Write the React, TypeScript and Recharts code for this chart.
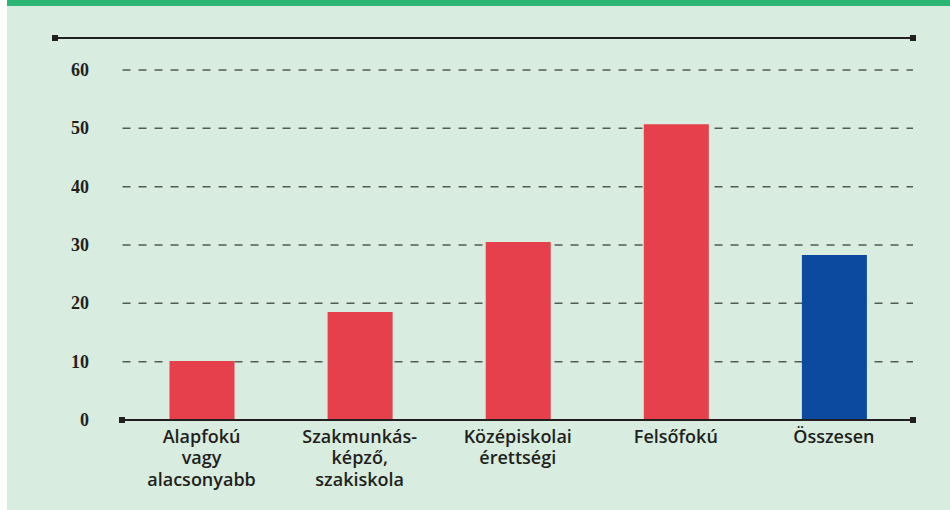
import { BarChart, Bar, XAxis, YAxis, CartesianGrid, Cell } from 'recharts'

const categories = [
  'Alapfokú|vagy|alacsonyabb',
  'Szakmunkás-|képző,|szakiskola',
  'Középiskolai|érettségi',
  'Felsőfokú',
  'Összesen',
]
const values = [10.1, 18.5, 30.5, 50.7, 28.3]
const yTicks = [0, 10, 20, 30, 40, 50, 60]

const RED = '#e5404c'
const BLUE = '#0b4a9e'
const INK = '#231f20'

const data = categories.map((name, i) => ({ name, value: values[i] }))

const CategoryTick = ({ x, y, payload }: any) => {
  const lines = String(payload.value).split('|')
  return (
    <text x={x} y={y + 15} textAnchor="middle" fill={INK}
      style={{ fontFamily: '"Open Sans", sans-serif', fontSize: 18, fontWeight: 600 }}>
      {lines.map((l, i) => (
        <tspan key={i} x={x} dy={i === 0 ? 0 : 21.3}>{l}</tspan>
      ))}
    </text>
  )
}

const ValueTick = ({ y, payload }: any) => (
  <text x={89} y={y} dy="0.34em" textAnchor="end" fill={INK}
    style={{ fontFamily: '"Liberation Serif", serif', fontSize: 18, fontWeight: 700 }}>
    {payload.value}
  </text>
)

export default function App() {
  return (
    <div style={{ position: 'absolute', left: 0, top: 0, width: 950, height: 510, background: '#fff' }}>
      <div style={{ position: 'absolute', left: 7, top: 0, width: 943, height: 510, background: '#d8ecdf' }} />
      <div style={{ position: 'absolute', left: 7, top: 0, width: 943, height: 6, background: '#2bb673' }} />
      <div style={{ position: 'absolute', left: 0, top: 0 }}>
        <BarChart width={950} height={510} data={data}
          margin={{ top: 70, right: 37, bottom: 60, left: 0 }}>
          <CartesianGrid vertical={false} strokeDasharray="8 8" stroke="#555a55" strokeWidth={1.5} />
          <YAxis width={122.5} domain={[0, 60]} ticks={yTicks} axisLine={false} tickLine={false}
            tick={<ValueTick />} interval={0} />
          <XAxis dataKey="name" height={30} tickSize={8} tickMargin={0} tickLine={false} interval={0}
            axisLine={{ stroke: INK, strokeWidth: 2 }} tick={<CategoryTick />} />
          <Bar dataKey="value" barSize={65} isAnimationActive={false}>
            {data.map((d, i) => (
              <Cell key={d.name} fill={i === data.length - 1 ? BLUE : RED} />
            ))}
          </Bar>
        </BarChart>
      </div>
      <svg width={950} height={510} style={{ position: 'absolute', left: 0, top: 0, pointerEvents: 'none' }}>
        <line x1={55} x2={913} y1={38} y2={38} stroke={INK} strokeWidth={2} />
        <rect x={52} y={35} width={6} height={6} fill={INK} />
        <rect x={910} y={35} width={6} height={6} fill={INK} />
        <line x1={122} x2={913} y1={420} y2={420} stroke={INK} strokeWidth={2} />
        <rect x={119} y={417} width={6} height={6} fill={INK} />
        <rect x={910} y={417} width={6} height={6} fill={INK} />
      </svg>
    </div>
  )
}
